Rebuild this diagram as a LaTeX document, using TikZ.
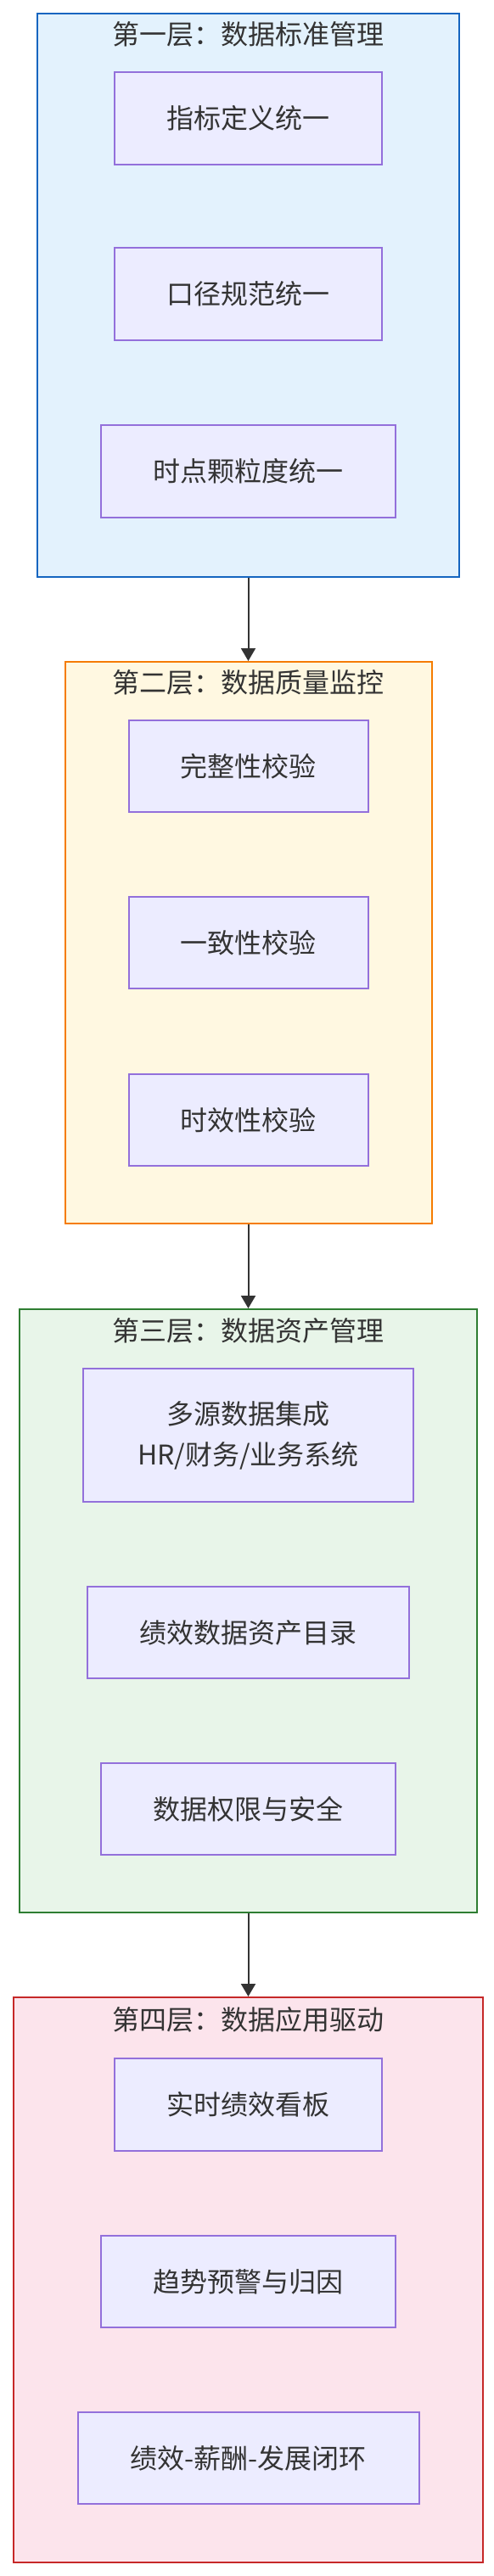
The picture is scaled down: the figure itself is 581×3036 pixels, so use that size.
\documentclass[tikz,border=0pt]{standalone}
\usepackage{fontspec}
\setmainfont{Noto Sans CJK SC}
\usetikzlibrary{arrows.meta}
\definecolor{txt}{HTML}{333333}
\definecolor{nodefill}{HTML}{ECECFF}
\definecolor{nodeline}{HTML}{9370DB}
\definecolor{fa}{HTML}{E3F2FD}\definecolor{sa}{HTML}{1565C0}
\definecolor{fb}{HTML}{FFF8E1}\definecolor{sb}{HTML}{F57C00}
\definecolor{fc}{HTML}{E8F5E9}\definecolor{sc}{HTML}{2E7D32}
\definecolor{fd}{HTML}{FCE4EC}\definecolor{sd}{HTML}{C62828}
\tikzset{
  cluster/.style={draw, line width=2pt, rectangle, inner sep=0pt},
  item/.style={draw=nodeline, fill=nodefill, line width=2pt, rectangle, inner sep=0pt,
    text=txt, font=\fontsize{32}{48}\selectfont, align=center},
  ttl/.style={text=txt, font=\fontsize{32}{48}\selectfont, inner sep=0pt},
  link/.style={draw=txt, line width=2pt, -{Triangle[length=15pt,width=17pt]}}
}
\begin{document}
\begin{tikzpicture}[x=1pt,y=-1pt]
\useasboundingbox (0,0) rectangle (581,3036);
% clusters
\node[cluster, draw=sa, fill=fa, minimum width=497pt, minimum height=664pt] (c1) at (292.5,348) {};
\node[cluster, draw=sb, fill=fb, minimum width=432pt, minimum height=662pt] (c2) at (292.5,1111) {};
\node[cluster, draw=sc, fill=fc, minimum width=539pt, minimum height=711pt] (c3) at (292.5,1898.5) {};
\node[cluster, draw=sd, fill=fd, minimum width=553pt, minimum height=666pt] (c4) at (292.5,2687) {};
% titles
\node[ttl] (t1) at (292.5,40) {第一层：数据标准管理};
\node[ttl] (t2) at (292.5,804) {第二层：数据质量监控};
\node[ttl] (t3) at (292.5,1568) {第三层：数据资产管理};
\node[ttl] (t4) at (292.5,2380) {第四层：数据应用驱动};
% layer 1
\node[item, minimum width=315pt, minimum height=109pt] (a1) at (292.5,139.5) {指标定义统一};
\node[item, minimum width=315pt, minimum height=109pt] (a2) at (292.5,346.5) {口径规范统一};
\node[item, minimum width=347pt, minimum height=109pt] (a3) at (292.5,555.5) {时点颗粒度统一};
% layer 2
\node[item, minimum width=282pt, minimum height=108pt] (b1) at (292.5,903) {完整性校验};
\node[item, minimum width=282pt, minimum height=108pt] (b2) at (292.5,1111) {一致性校验};
\node[item, minimum width=282pt, minimum height=108pt] (b3) at (292.5,1320) {时效性校验};
% layer 3
\node[item, minimum width=389pt, minimum height=157pt] (m1) at (292.5,1691.5) {多源数据集成\\HR/财务/业务系统};
\node[item, minimum width=379pt, minimum height=108pt] (m2) at (292.5,1924) {绩效数据资产目录};
\node[item, minimum width=347pt, minimum height=108pt] (m3) at (292.5,2132) {数据权限与安全};
% layer 4
\node[item, minimum width=315pt, minimum height=109pt] (d1) at (292.5,2480.5) {实时绩效看板};
\node[item, minimum width=347pt, minimum height=108pt] (d2) at (292.5,2689) {趋势预警与归因};
\node[item, minimum width=402pt, minimum height=108pt] (d3) at (292.5,2897) {绩效-薪酬-发展闭环};
% links
\draw[link] (c1.south) -- (c2.north);
\draw[link] (c2.south) -- (c3.north);
\draw[link] (c3.south) -- (c4.north);
\end{tikzpicture}
\end{document}
